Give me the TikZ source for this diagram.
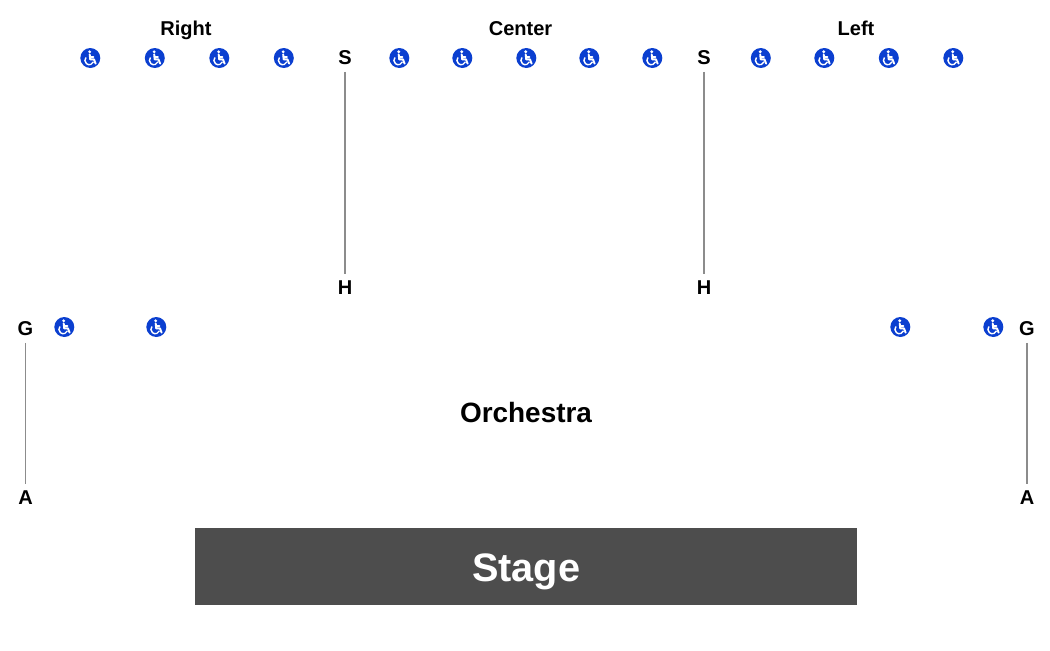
\documentclass[tikz,border=0pt]{standalone}
\usepackage{fontspec}
\setmainfont{Liberation Sans}
\definecolor{wheelblue}{HTML}{0B3FD0}
\definecolor{stagegray}{HTML}{4D4D4D}
\definecolor{aislegray}{HTML}{8C8C8C}
\tikzset{
  wheel/.style={circle,fill=wheelblue,inner sep=0pt,minimum size=0.4cm,
    path picture={
      \fill[white] (path picture bounding box.center) ++(-0.6,-6.2) circle (1.6);
      \draw[white,line width=1.1pt,line cap=round,line join=round]
        (path picture bounding box.center) ++(-0.6,-3.6) -- ++(0.5,5) -- ++(3.8,0) -- ++(1.6,4.2);
      \draw[white,line width=0.9pt,line cap=round]
        (path picture bounding box.center) ++(-0.4,-1.2) -- ++(3.6,0);
      \draw[white,line width=0.8pt]
        (path picture bounding box.center) ++(-4.37,-0.53) arc[start angle=220,end angle=20,radius=4.4];
    }},
  rowlabel/.style={font=\bfseries\fontsize{11.4}{12}\selectfont,inner sep=4pt},
  section/.style={font=\bfseries\fontsize{11.4}{12}\selectfont,inner sep=0pt,anchor=base},
  aisle/.style={aislegray,line width=0.6pt}
}
\begin{document}
\begin{tikzpicture}[x=0.02cm,y=-0.02cm]

  \useasboundingbox (0,0) rectangle (1050,650);

  \draw (186,35) node[section] (right) {Right};
  \draw (520.5,35) node[section] (center) {Center};
  \draw (856,35) node[section] (left) {Left};

  % top row
  \draw (90.3,58) node[wheel] (w1) {};
  \draw (154.8,58) node[wheel] (w2) {};
  \draw (219.3,58) node[wheel] (w3) {};
  \draw (283.8,58) node[wheel] (w4) {};
  \draw (399.3,58) node[wheel] (w5) {};
  \draw (462.3,58) node[wheel] (w6) {};
  \draw (526.3,58) node[wheel] (w7) {};
  \draw (589.3,58) node[wheel] (w8) {};
  \draw (652.3,58) node[wheel] (w9) {};
  \draw (760.8,58) node[wheel] (w10) {};
  \draw (824.3,58) node[wheel] (w11) {};
  \draw (888.8,58) node[wheel] (w12) {};
  \draw (953.3,58) node[wheel] (w13) {};

  % lower row
  \draw (64.3,327) node[wheel] (w14) {};
  \draw (156.3,327) node[wheel] (w15) {};
  \draw (900.3,327) node[wheel] (w16) {};
  \draw (993.3,327) node[wheel] (w17) {};

  \draw (345,57.5) node[rowlabel] (s1) {S};
  \draw (345,288) node[rowlabel] (h1) {H};
  \draw (704,57.5) node[rowlabel] (s2) {S};
  \draw (704,288) node[rowlabel] (h2) {H};
  \draw (25.5,328.5) node[rowlabel] (g1) {G};
  \draw (25.5,498) node[rowlabel] (a1) {A};
  \draw (1027,328.5) node[rowlabel] (g2) {G};
  \draw (1027,498) node[rowlabel] (a2) {A};

  \draw[aisle] (s1) -- (h1);
  \draw[aisle] (s2) -- (h2);
  \draw[aisle] (g1) -- (a1);
  \draw[aisle] (g2) -- (a2);

  \draw (526,413) node[font=\bfseries\fontsize{15.9}{18}\selectfont] (orchestra) {Orchestra};

  \draw (526.2,566.5) node[fill=stagegray,minimum width=13.25cm,minimum height=1.54cm,inner sep=0pt,
    text=white,text height=16.6pt,text depth=0pt,font=\bfseries\fontsize{22.6}{26}\selectfont] (stage) {Stage};

\end{tikzpicture}
\end{document}
